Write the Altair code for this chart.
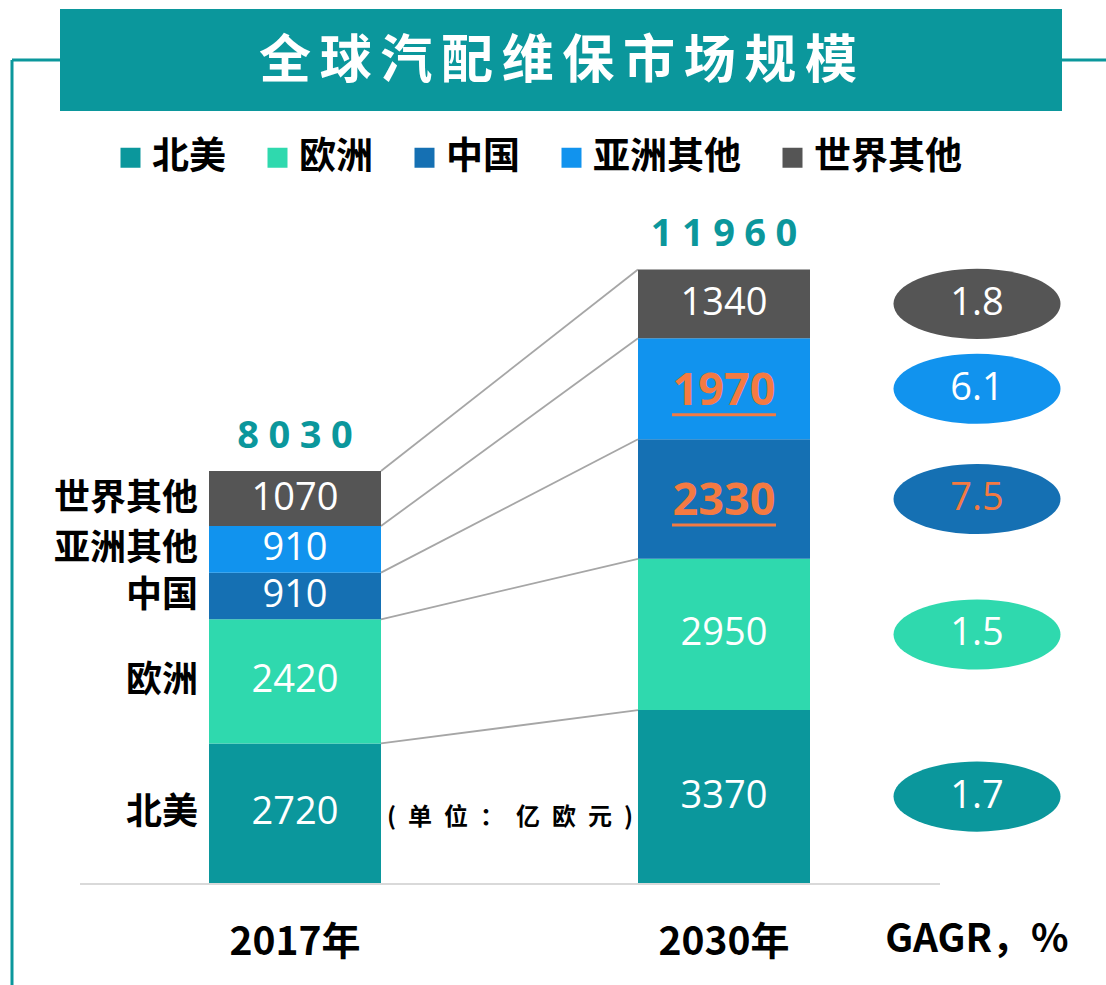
import altair as alt
import pandas as pd

# ---------------- data ----------------
regions = ["北美", "欧洲", "中国", "亚洲其他", "世界其他"]
years = ["2017年", "2030年"]
values_2017 = [2720, 2420, 910, 910, 1070]
values_2030 = [3370, 2950, 2330, 1970, 1340]
totals = [8030, 11960]
cagr = [1.7, 1.5, 7.5, 6.1, 1.8]
highlight = ["中国", "亚洲其他"]
colors = ["#0B979C", "#2FD9AE", "#1570B3", "#1193EE", "#555555"]
title_text = "全球汽配维保市场规模"
unit_chars = ["(", "单", "位", "：", "亿", "欧", "元", ")"]
cagr_title = "GAGR，%"

TEAL = "#0B979C"
ORANGE = "#F47A42"
CJK = "Noto Sans CJK SC"
NUM = "Open Sans"

# ---------------- tables ----------------
rows = []
for yr, vals in zip(years, [values_2017, values_2030]):
    base = 0
    for r, v in zip(regions, vals):
        rows.append(dict(year=yr, region=r, value=v, y0=base, y1=base + v,
                         mid=base + v / 2,
                         hl=bool(yr == years[1] and r in highlight)))
        base += v
df = pd.DataFrame(rows)

d17 = df[df.year == years[0]].reset_index(drop=True)
d30 = df[df.year == years[1]].reset_index(drop=True)
conn = pd.DataFrame(dict(a=years[0], b=years[1], t17=d17.y1, t30=d30.y1))
tot = pd.DataFrame(dict(year=years, total=totals,
                        label=["\u2005".join(str(t)) for t in totals]))
ell = d30.copy()
ell["cagr"] = [f"{c:.1f}" for c in cagr]
yl = pd.DataFrame(dict(year=years))

xs = alt.Scale(type="point", domain=years, range=[295, 724], padding=0)
ys = alt.Scale(domain=[0, 10000], range=[883, 370], nice=False, zero=False)
cs = alt.Scale(domain=regions, range=colors)

X = alt.X("year:N", scale=xs, axis=None)
one = alt.Data(values=[{}])

# frame lines and title banner
frame_v = alt.Chart(one).mark_rule(color=TEAL, strokeWidth=3).encode(
    x=alt.value(12), y=alt.value(60), y2=alt.value(985))
frame_h1 = alt.Chart(one).mark_rule(color=TEAL, strokeWidth=3).encode(
    x=alt.value(12), x2=alt.value(60), y=alt.value(60))
frame_h2 = alt.Chart(one).mark_rule(color=TEAL, strokeWidth=3).encode(
    x=alt.value(1062), x2=alt.value(1106), y=alt.value(60))
banner = alt.Chart(one).mark_rect(color=TEAL).encode(
    x=alt.value(60), x2=alt.value(1062), y=alt.value(9), y2=alt.value(111))
title = alt.Chart(one).mark_text(
    text="\u2006".join(title_text), font=CJK, fontSize=52, fontWeight="bold",
    color="white", align="center", baseline="middle").encode(
    x=alt.value(558), y=alt.value(62))

# baseline
baseline = alt.Chart(one).mark_rule(color="#D9D9D9", strokeWidth=2).encode(
    x=alt.value(80), x2=alt.value(940), y=alt.value(884))

# connectors
connectors = alt.Chart(conn).mark_rule(
    color="#A6A6A6", strokeWidth=1.8, xOffset=86, x2Offset=-86).encode(
    x=alt.X("a:N", scale=xs, axis=None), x2="b:N",
    y=alt.Y("t17:Q", scale=ys, axis=None), y2="t30:Q")

bars = alt.Chart(df).mark_bar(width=172).encode(
    x=X,
    y=alt.Y("y0:Q", scale=ys, axis=None), y2="y1:Q",
    color=alt.Color("region:N", scale=cs, sort=regions, legend=alt.Legend(
        orient="none", legendX=112, legendY=139, direction="horizontal",
        title=None, symbolType="square", symbolSize=400, symbolStrokeWidth=0,
        symbolOpacity=1, labelFont=CJK, labelFontSize=37,
        labelFontWeight="bold", labelColor="black", columnPadding=33,
        labelOffset=3, padding=0, labelLimit=300)))

vals_plain = alt.Chart(df[~df.hl]).mark_text(
    font=NUM, fontSize=38, color="white", baseline="middle").encode(
    x=X, y=alt.Y("mid:Q", scale=ys, axis=None), text="value:Q")
vals_hl = alt.Chart(df[df.hl]).mark_text(
    font=NUM, fontSize=45, fontWeight="bold", color=ORANGE,
    baseline="middle", dy=2).encode(
    x=X, y=alt.Y("mid:Q", scale=ys, axis=None), text="value:Q")
underline = alt.Chart(df[df.hl]).mark_rule(
    color=ORANGE, strokeWidth=3, xOffset=-52, x2Offset=52, yOffset=26).encode(
    x=X, x2="year:N", y=alt.Y("mid:Q", scale=ys, axis=None))

totals_txt = alt.Chart(tot).mark_text(
    font=NUM, fontSize=38, fontWeight="bold", color=TEAL,
    baseline="middle", dy=-34).encode(
    x=X, y=alt.Y("total:Q", scale=ys, axis=None), text="label:N")

left_lbl = alt.Chart(d17).mark_text(
    font=CJK, fontSize=36, fontWeight="bold", color="black",
    align="right", baseline="middle").encode(
    x=alt.value(198), y=alt.Y("mid:Q", scale=ys, axis=None), text="region:N")

ellipses = alt.Chart(ell).mark_point(
    shape="M -1 0 A 1 0.42 0 1 0 1 0 A 1 0.42 0 1 0 -1 0 Z",
    size=167 * 167, filled=True, opacity=1, strokeWidth=0).encode(
    x=alt.value(977), y=alt.Y("mid:Q", scale=ys, axis=None),
    color=alt.Color("region:N", scale=cs, legend=None))
ell_txt = alt.Chart(ell).mark_text(
    font=NUM, fontSize=38, baseline="middle").encode(
    x=alt.value(977), y=alt.Y("mid:Q", scale=ys, axis=None), text="cagr:N",
    color=alt.condition("datum.region == '中国'", alt.value(ORANGE),
                        alt.value("white")))

year_txt = alt.Chart(yl).mark_text(
    font=CJK, fontSize=39, fontWeight="bold", color="black",
    baseline="middle").encode(x=X, y=alt.value(943), text="year:N")
cagr_txt = alt.Chart(one).mark_text(
    text=cagr_title, font=CJK, fontSize=39, fontWeight="bold", color="black",
    baseline="middle").encode(x=alt.value(977), y=alt.value(940))
unit_txt = alt.Chart(one).mark_text(
    text="\u2002".join(unit_chars), font=CJK, fontSize=24, fontWeight="bold",
    color="black", baseline="middle").encode(x=alt.value(510), y=alt.value(818))

chart = alt.layer(
    frame_v, frame_h1, frame_h2, banner, title, baseline, connectors, bars,
    vals_plain, vals_hl, underline, totals_txt, left_lbl, ellipses, ell_txt,
    year_txt, cagr_txt, unit_txt
).properties(
    width=1106, height=985, autosize=alt.AutoSizeParams(type="none"),
    padding=0, background="white"
).configure_view(stroke=None)

chart.save("out.html", embed_options={"renderer": "svg", "actions": False})
